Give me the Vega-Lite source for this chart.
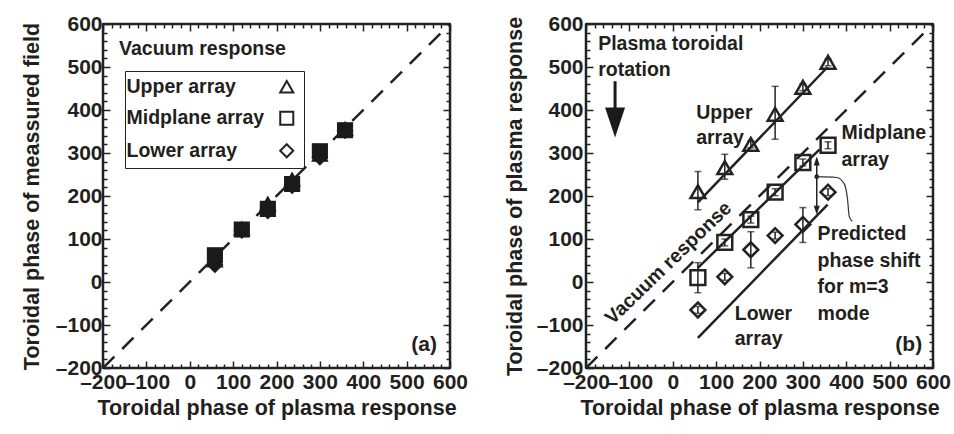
{
  "$schema": "https://vega.github.io/schema/vega-lite/v6.json",
  "background": "white",
  "padding": {"left": 20, "top": 12, "right": 2, "bottom": 4},
  "spacing": 34,
  "datasets": {
    "vac": [{"x": -200, "y": -200}, {"x": 600, "y": 600}],
    "a": [
      {"array": "Upper array", "x": 58, "y": 50},
      {"array": "Upper array", "x": 120, "y": 124},
      {"array": "Upper array", "x": 180, "y": 182},
      {"array": "Upper array", "x": 236, "y": 238},
      {"array": "Upper array", "x": 300, "y": 296},
      {"array": "Upper array", "x": 358, "y": 356},
      {"array": "Midplane array", "x": 58, "y": 62},
      {"array": "Midplane array", "x": 120, "y": 122},
      {"array": "Midplane array", "x": 180, "y": 170},
      {"array": "Midplane array", "x": 236, "y": 228},
      {"array": "Midplane array", "x": 300, "y": 304},
      {"array": "Midplane array", "x": 358, "y": 353},
      {"array": "Lower array", "x": 58, "y": 40},
      {"array": "Lower array", "x": 120, "y": 120},
      {"array": "Lower array", "x": 180, "y": 165},
      {"array": "Lower array", "x": 236, "y": 224},
      {"array": "Lower array", "x": 300, "y": 290},
      {"array": "Lower array", "x": 358, "y": 352}
    ],
    "b": [
      {"array": "Upper array", "x": 58, "y": 210, "lo": 168, "hi": 257},
      {"array": "Upper array", "x": 120, "y": 266, "lo": 239, "hi": 297},
      {"array": "Upper array", "x": 180, "y": 320, "lo": 312, "hi": 328},
      {"array": "Upper array", "x": 236, "y": 390, "lo": 332, "hi": 455},
      {"array": "Upper array", "x": 300, "y": 453, "lo": 445, "hi": 461},
      {"array": "Upper array", "x": 358, "y": 511, "lo": 503, "hi": 519},
      {"array": "Midplane array", "x": 58, "y": 10, "lo": -25, "hi": 45},
      {"array": "Midplane array", "x": 120, "y": 92, "lo": 84, "hi": 100},
      {"array": "Midplane array", "x": 180, "y": 145, "lo": 137, "hi": 153},
      {"array": "Midplane array", "x": 236, "y": 209, "lo": 201, "hi": 217},
      {"array": "Midplane array", "x": 300, "y": 278, "lo": 270, "hi": 286},
      {"array": "Midplane array", "x": 358, "y": 318, "lo": 310, "hi": 326},
      {"array": "Lower array", "x": 58, "y": -65, "lo": -73, "hi": -57},
      {"array": "Lower array", "x": 120, "y": 12, "lo": 4, "hi": 20},
      {"array": "Lower array", "x": 180, "y": 75, "lo": 33, "hi": 117},
      {"array": "Lower array", "x": 236, "y": 108, "lo": 100, "hi": 116},
      {"array": "Lower array", "x": 300, "y": 134, "lo": 92, "hi": 173},
      {"array": "Lower array", "x": 358, "y": 209, "lo": 201, "hi": 217}
    ],
    "fits": [
      {"line": "upper", "x": 58, "y": 185},
      {"line": "upper", "x": 357, "y": 500},
      {"line": "mid", "x": 58, "y": 33},
      {"line": "mid", "x": 338, "y": 308},
      {"line": "lower", "x": 58, "y": -130},
      {"line": "lower", "x": 357, "y": 180}
    ],
    "leader": [
      {"x": 332, "y": 245},
      {"x": 378, "y": 243},
      {"x": 396, "y": 227},
      {"x": 403, "y": 192},
      {"x": 407, "y": 152},
      {"x": 414, "y": 141}
    ]
  },
  "hconcat": [
    {
      "width": 347,
      "height": 344,
      "layer": [
        {
          "data": {"name": "vac"},
          "mark": {"type": "line", "color": "#222", "strokeWidth": 2.5, "strokeDash": [16, 11], "clip": true},
          "encoding": {
            "x": {"field": "x", "type": "quantitative", "scale": {"domain": [-200, 600], "nice": false, "zero": false},
                  "axis": {"orient": "bottom", "title": "Toroidal phase of plasma response", "titlePadding": 5,
                           "values": [-200, -100, 0, 100, 200, 300, 400, 500, 600], "tickSize": -7, "labelPadding": 10,
                           "labelExpr": "datum.value == -200 ? '\u2013200\u00a0\u00a0' : '' + (datum.value < 0 ? '\u2013' + abs(datum.value) : datum.value)"}},
            "y": {"field": "y", "type": "quantitative", "scale": {"domain": [-200, 600], "nice": false, "zero": false},
                  "axis": {"orient": "left", "title": "Toroidal phase of meassured field", "titlePadding": 12,
                           "values": [-200, -100, 0, 100, 200, 300, 400, 500, 600], "tickSize": -7, "labelPadding": 8,
                           "labelExpr": "datum.value < 0 ? '\u2013' + abs(datum.value) : '' + datum.value"}}
          }
        },
        {
          "data": {"name": "a"},
          "mark": {"type": "point", "filled": false, "color": "#222", "strokeWidth": 2, "size": 200, "opacity": 1},
          "encoding": {
            "x": {"field": "x", "type": "quantitative", "axis": {"orient": "top", "labels": false, "title": null,
                  "values": [-200, -100, 0, 100, 200, 300, 400, 500, 600], "tickSize": -7}},
            "y": {"field": "y", "type": "quantitative", "axis": {"orient": "right", "labels": false, "title": null,
                  "values": [-200, -100, 0, 100, 200, 300, 400, 500, 600], "tickSize": -7}},
            "shape": {"field": "array", "type": "nominal",
                      "scale": {"domain": ["Upper array", "Midplane array", "Lower array"], "range": ["triangle-up", "square", "diamond"]},
                      "legend": {"orient": "none", "legendX": 22, "legendY": 47, "title": null,
                                 "symbolOffset": 146, "labelOffset": -170, "padding": 6, "rowPadding": 10.5,
                                 "strokeColor": "#222", "symbolSize": 170, "symbolStrokeWidth": 2, "symbolStrokeColor": "#222",
                                 "labelFontSize": 19.5, "labelFontWeight": "bold", "labelColor": "#231f20", "labelLimit": 300,
                                 "encode": {"legend": {"update": {"strokeWidth": {"value": 2}}}}}}
          }
        },
        {
          "data": {"name": "a"},
          "mark": {"type": "point", "filled": true, "color": "#1a1a1a", "size": 230, "opacity": 1},
          "encoding": {
            "x": {"field": "x", "type": "quantitative", "axis": {"orient": "bottom", "labels": false, "title": null,
                  "values": [-180, -160, -140, -120, -80, -60, -40, -20, 20, 40, 60, 80, 120, 140, 160, 180, 220, 240, 260, 280, 320, 340, 360, 380, 420, 440, 460, 480, 520, 540, 560, 580], "tickSize": -4}},
            "y": {"field": "y", "type": "quantitative", "axis": {"orient": "left", "labels": false, "title": null,
                  "values": [-180, -160, -140, -120, -80, -60, -40, -20, 20, 40, 60, 80, 120, 140, 160, 180, 220, 240, 260, 280, 320, 340, 360, 380, 420, 440, 460, 480, 520, 540, 560, 580], "tickSize": -4}},
            "shape": {"field": "array", "type": "nominal", "legend": null}
          }
        },
        {
          "data": {"values": [{}]},
          "mark": {"type": "text", "align": "left", "baseline": "alphabetic", "fontSize": 19.5, "fontWeight": "bold", "color": "#231f20"},
          "encoding": {
            "x": {"datum": -163, "type": "quantitative", "axis": {"orient": "top", "labels": false, "title": null,
                  "values": [-180, -160, -140, -120, -80, -60, -40, -20, 20, 40, 60, 80, 120, 140, 160, 180, 220, 240, 260, 280, 320, 340, 360, 380, 420, 440, 460, 480, 520, 540, 560, 580], "tickSize": -4}},
            "y": {"datum": 528, "type": "quantitative", "axis": {"orient": "right", "labels": false, "title": null,
                  "values": [-180, -160, -140, -120, -80, -60, -40, -20, 20, 40, 60, 80, 120, 140, 160, 180, 220, 240, 260, 280, 320, 340, 360, 380, 420, 440, 460, 480, 520, 540, 560, 580], "tickSize": -4}},
            "text": {"value": "Vacuum response"}
          }
        },
        {
          "data": {"values": [{}]},
          "mark": {"type": "text", "align": "right", "baseline": "middle", "fontSize": 21, "fontWeight": "bold", "color": "#231f20"},
          "encoding": {"x": {"datum": 570, "type": "quantitative", "axis": null}, "y": {"datum": -147, "type": "quantitative", "axis": null}, "text": {"value": "(a)"}}
        },
        {
          "data": {"values": [{}]},
          "mark": {"type": "rule", "color": "#222", "strokeWidth": 2.5},
          "encoding": {"x": {"datum": -200, "type": "quantitative", "axis": null}, "x2": {"datum": 600}, "y": {"datum": -200, "type": "quantitative", "axis": null}}
        },
        {
          "data": {"values": [{}]},
          "mark": {"type": "rule", "color": "#222", "strokeWidth": 2.5},
          "encoding": {"x": {"datum": -200, "type": "quantitative", "axis": null}, "x2": {"datum": 600}, "y": {"datum": 600, "type": "quantitative", "axis": null}}
        },
        {
          "data": {"values": [{}]},
          "mark": {"type": "rule", "color": "#222", "strokeWidth": 2.5},
          "encoding": {"x": {"datum": -200, "type": "quantitative", "axis": null}, "y": {"datum": -200, "type": "quantitative", "axis": null}, "y2": {"datum": 600}}
        },
        {
          "data": {"values": [{}]},
          "mark": {"type": "rule", "color": "#222", "strokeWidth": 2.5},
          "encoding": {"x": {"datum": 600, "type": "quantitative", "axis": null}, "y": {"datum": -200, "type": "quantitative", "axis": null}, "y2": {"datum": 600}}
        }
      ],
      "resolve": {"axis": {"x": "independent", "y": "independent"}}
    },
    {
      "width": 347,
      "height": 344,
      "layer": [
        {
          "data": {"name": "vac"},
          "mark": {"type": "line", "color": "#222", "strokeWidth": 2.5, "strokeDash": [16, 11], "clip": true},
          "encoding": {
            "x": {"field": "x", "type": "quantitative", "scale": {"domain": [-200, 600], "nice": false, "zero": false},
                  "axis": {"orient": "bottom", "title": "Toroidal phase of plasma response", "titlePadding": 5,
                           "values": [-200, -100, 0, 100, 200, 300, 400, 500, 600], "tickSize": -7, "labelPadding": 10,
                           "labelExpr": "datum.value == -200 ? '\u2013200\u00a0\u00a0' : '' + (datum.value < 0 ? '\u2013' + abs(datum.value) : datum.value)"}},
            "y": {"field": "y", "type": "quantitative", "scale": {"domain": [-200, 600], "nice": false, "zero": false},
                  "axis": {"orient": "left", "title": "Toroidal phase of plasma response", "titlePadding": 10,
                           "values": [-200, -100, 0, 100, 200, 300, 400, 500, 600], "tickSize": -7, "labelPadding": 10,
                           "labelExpr": "datum.value < 0 ? '\u2013' + abs(datum.value) : '' + datum.value"}}
          }
        },
        {
          "data": {"name": "fits"},
          "mark": {"type": "line", "color": "#222", "strokeWidth": 2.5},
          "encoding": {
            "x": {"field": "x", "type": "quantitative", "axis": {"orient": "top", "labels": false, "title": null,
                  "values": [-200, -100, 0, 100, 200, 300, 400, 500, 600], "tickSize": -7}},
            "y": {"field": "y", "type": "quantitative", "axis": {"orient": "right", "labels": false, "title": null,
                  "values": [-200, -100, 0, 100, 200, 300, 400, 500, 600], "tickSize": -7}},
            "detail": {"field": "line", "type": "nominal"}
          }
        },
        {
          "data": {"name": "b"},
          "mark": {"type": "rule", "color": "#222", "strokeWidth": 1.5},
          "encoding": {
            "x": {"field": "x", "type": "quantitative", "axis": {"orient": "bottom", "labels": false, "title": null,
                  "values": [-180, -160, -140, -120, -80, -60, -40, -20, 20, 40, 60, 80, 120, 140, 160, 180, 220, 240, 260, 280, 320, 340, 360, 380, 420, 440, 460, 480, 520, 540, 560, 580], "tickSize": -4}},
            "y": {"field": "lo", "type": "quantitative", "axis": {"orient": "left", "labels": false, "title": null,
                  "values": [-180, -160, -140, -120, -80, -60, -40, -20, 20, 40, 60, 80, 120, 140, 160, 180, 220, 240, 260, 280, 320, 340, 360, 380, 420, 440, 460, 480, 520, 540, 560, 580], "tickSize": -4}},
            "y2": {"field": "hi"}
          }
        },
        {
          "data": {"name": "b"},
          "mark": {"type": "tick", "orient": "horizontal", "color": "#222", "size": 7, "thickness": 1.5},
          "encoding": {
            "x": {"field": "x", "type": "quantitative", "axis": {"orient": "top", "labels": false, "title": null,
                  "values": [-180, -160, -140, -120, -80, -60, -40, -20, 20, 40, 60, 80, 120, 140, 160, 180, 220, 240, 260, 280, 320, 340, 360, 380, 420, 440, 460, 480, 520, 540, 560, 580], "tickSize": -4}},
            "y": {"field": "lo", "type": "quantitative", "axis": {"orient": "right", "labels": false, "title": null,
                  "values": [-180, -160, -140, -120, -80, -60, -40, -20, 20, 40, 60, 80, 120, 140, 160, 180, 220, 240, 260, 280, 320, 340, 360, 380, 420, 440, 460, 480, 520, 540, 560, 580], "tickSize": -4}}
          }
        },
        {
          "data": {"name": "b"},
          "mark": {"type": "tick", "orient": "horizontal", "color": "#222", "size": 7, "thickness": 1.5},
          "encoding": {
            "x": {"field": "x", "type": "quantitative", "axis": null},
            "y": {"field": "hi", "type": "quantitative", "axis": null}
          }
        },
        {
          "data": {"name": "b"},
          "mark": {"type": "point", "filled": false, "color": "#222", "strokeWidth": 2.5, "size": 220, "opacity": 1},
          "encoding": {
            "x": {"field": "x", "type": "quantitative", "axis": null},
            "y": {"field": "y", "type": "quantitative", "axis": null},
            "shape": {"field": "array", "type": "nominal",
                      "scale": {"domain": ["Upper array", "Midplane array", "Lower array"], "range": ["triangle-up", "square", "diamond"]},
                      "legend": null}
          }
        },
        {
          "data": {"values": [{}]},
          "mark": {"type": "text", "align": "left", "baseline": "alphabetic", "fontSize": 19.5, "fontWeight": "bold", "color": "#231f20", "lineHeight": 26},
          "encoding": {"x": {"datum": -172, "type": "quantitative", "axis": null}, "y": {"datum": 539, "type": "quantitative", "axis": null}, "text": {"value": ["Plasma toroidal", "rotation"]}}
        },
        {
          "data": {"values": [{}]},
          "mark": {"type": "rule", "color": "#1a1a1a", "strokeWidth": 3},
          "encoding": {"x": {"datum": -133, "type": "quantitative", "axis": null}, "y": {"datum": 467, "type": "quantitative", "axis": null}, "y2": {"datum": 395}}
        },
        {
          "data": {"values": [{}]},
          "mark": {"type": "point", "filled": true, "color": "#1a1a1a", "opacity": 1, "size": 900, "shape": "M -0.667 -1 L 0.667 -1 L 0 1 Z"},
          "encoding": {"x": {"datum": -133, "type": "quantitative", "axis": null}, "y": {"datum": 371, "type": "quantitative", "axis": null}}
        },
        {
          "data": {"values": [{}]},
          "mark": {"type": "text", "align": "left", "baseline": "alphabetic", "fontSize": 19.5, "fontWeight": "bold", "color": "#231f20", "lineHeight": 25},
          "encoding": {"x": {"datum": 54, "type": "quantitative", "axis": null}, "y": {"datum": 378, "type": "quantitative", "axis": null}, "text": {"value": ["Upper", "array"]}}
        },
        {
          "data": {"values": [{}]},
          "mark": {"type": "text", "align": "left", "baseline": "alphabetic", "fontSize": 19.5, "fontWeight": "bold", "color": "#231f20", "lineHeight": 27},
          "encoding": {"x": {"datum": 389, "type": "quantitative", "axis": null}, "y": {"datum": 332, "type": "quantitative", "axis": null}, "text": {"value": ["Midplane", "array"]}}
        },
        {
          "data": {"values": [{}]},
          "mark": {"type": "text", "align": "center", "baseline": "middle", "angle": -44, "fontSize": 19.5, "fontWeight": "bold", "color": "#231f20"},
          "encoding": {"x": {"datum": -10, "type": "quantitative", "axis": null}, "y": {"datum": 44, "type": "quantitative", "axis": null}, "text": {"value": "Vacuum response"}}
        },
        {
          "data": {"values": [{}]},
          "mark": {"type": "text", "align": "left", "baseline": "alphabetic", "fontSize": 19.5, "fontWeight": "bold", "color": "#231f20", "lineHeight": 25},
          "encoding": {"x": {"datum": 143, "type": "quantitative", "axis": null}, "y": {"datum": -88, "type": "quantitative", "axis": null}, "text": {"value": ["Lower", "array"]}}
        },
        {
          "data": {"values": [{}]},
          "mark": {"type": "text", "align": "left", "baseline": "alphabetic", "fontSize": 19.5, "fontWeight": "bold", "color": "#231f20", "lineHeight": 26.7},
          "encoding": {"x": {"datum": 334, "type": "quantitative", "axis": null}, "y": {"datum": 98, "type": "quantitative", "axis": null}, "text": {"value": ["Predicted", "phase shift", "for m=3", "mode"]}}
        },
        {
          "data": {"values": [{}]},
          "mark": {"type": "rule", "color": "#222", "strokeWidth": 1.5},
          "encoding": {"x": {"datum": 332, "type": "quantitative", "axis": null}, "y": {"datum": 285, "type": "quantitative", "axis": null}, "y2": {"datum": 165}}
        },
        {
          "data": {"values": [{}]},
          "mark": {"type": "point", "filled": true, "color": "#222", "opacity": 1, "size": 81, "shape": "M 0 -1 L 0.667 1 L -0.667 1 Z"},
          "encoding": {"x": {"datum": 332, "type": "quantitative", "axis": null}, "y": {"datum": 281.6, "type": "quantitative", "axis": null}}
        },
        {
          "data": {"values": [{}]},
          "mark": {"type": "point", "filled": true, "color": "#222", "opacity": 1, "size": 81, "shape": "M 0 1 L 0.667 -1 L -0.667 -1 Z"},
          "encoding": {"x": {"datum": 332, "type": "quantitative", "axis": null}, "y": {"datum": 167, "type": "quantitative", "axis": null}}
        },
        {
          "data": {"values": [{}]},
          "mark": {"type": "point", "filled": true, "color": "#222", "opacity": 1, "size": 22, "shape": "circle"},
          "encoding": {"x": {"datum": 332, "type": "quantitative", "axis": null}, "y": {"datum": 245, "type": "quantitative", "axis": null}}
        },
        {
          "data": {"name": "leader"},
          "mark": {"type": "line", "color": "#333", "strokeWidth": 1.2, "interpolate": "monotone"},
          "encoding": {
            "x": {"field": "x", "type": "quantitative", "axis": null},
            "y": {"field": "y", "type": "quantitative", "axis": null}
          }
        },
        {
          "data": {"values": [{}]},
          "mark": {"type": "text", "align": "right", "baseline": "middle", "fontSize": 21, "fontWeight": "bold", "color": "#231f20"},
          "encoding": {"x": {"datum": 575, "type": "quantitative", "axis": null}, "y": {"datum": -146, "type": "quantitative", "axis": null}, "text": {"value": "(b)"}}
        },
        {
          "data": {"values": [{}]},
          "mark": {"type": "rule", "color": "#222", "strokeWidth": 2.5},
          "encoding": {"x": {"datum": -200, "type": "quantitative", "axis": null}, "x2": {"datum": 600}, "y": {"datum": -200, "type": "quantitative", "axis": null}}
        },
        {
          "data": {"values": [{}]},
          "mark": {"type": "rule", "color": "#222", "strokeWidth": 2.5},
          "encoding": {"x": {"datum": -200, "type": "quantitative", "axis": null}, "x2": {"datum": 600}, "y": {"datum": 600, "type": "quantitative", "axis": null}}
        },
        {
          "data": {"values": [{}]},
          "mark": {"type": "rule", "color": "#222", "strokeWidth": 2.5},
          "encoding": {"x": {"datum": -200, "type": "quantitative", "axis": null}, "y": {"datum": -200, "type": "quantitative", "axis": null}, "y2": {"datum": 600}}
        },
        {
          "data": {"values": [{}]},
          "mark": {"type": "rule", "color": "#222", "strokeWidth": 2.5},
          "encoding": {"x": {"datum": 600, "type": "quantitative", "axis": null}, "y": {"datum": -200, "type": "quantitative", "axis": null}, "y2": {"datum": 600}}
        }
      ],
      "resolve": {"axis": {"x": "independent", "y": "independent"}}
    }
  ],
  "resolve": {"scale": {"shape": "independent"}, "legend": {"shape": "independent"}},
  "config": {
    "font": "Liberation Sans, Arial, Helvetica, sans-serif",
    "view": {"stroke": "#222", "strokeWidth": 2},
    "axis": {
      "domain": false,
      "grid": false,
      "ticks": true,
      "zindex": 1,
      "tickColor": "#222",
      "tickWidth": 1.5,
      "labelFont": "Liberation Sans, Arial, Helvetica, sans-serif",
      "labelFontSize": 21,
      "labelFontWeight": "bold",
      "labelColor": "#231f20",
      "labelOverlap": false,
      "labelFlush": false,
      "labelBound": false,
      "titleFont": "Liberation Sans, Arial, Helvetica, sans-serif",
      "titleFontSize": 21.5,
      "titleFontWeight": "bold",
      "titleColor": "#231f20"
    }
  }
}
